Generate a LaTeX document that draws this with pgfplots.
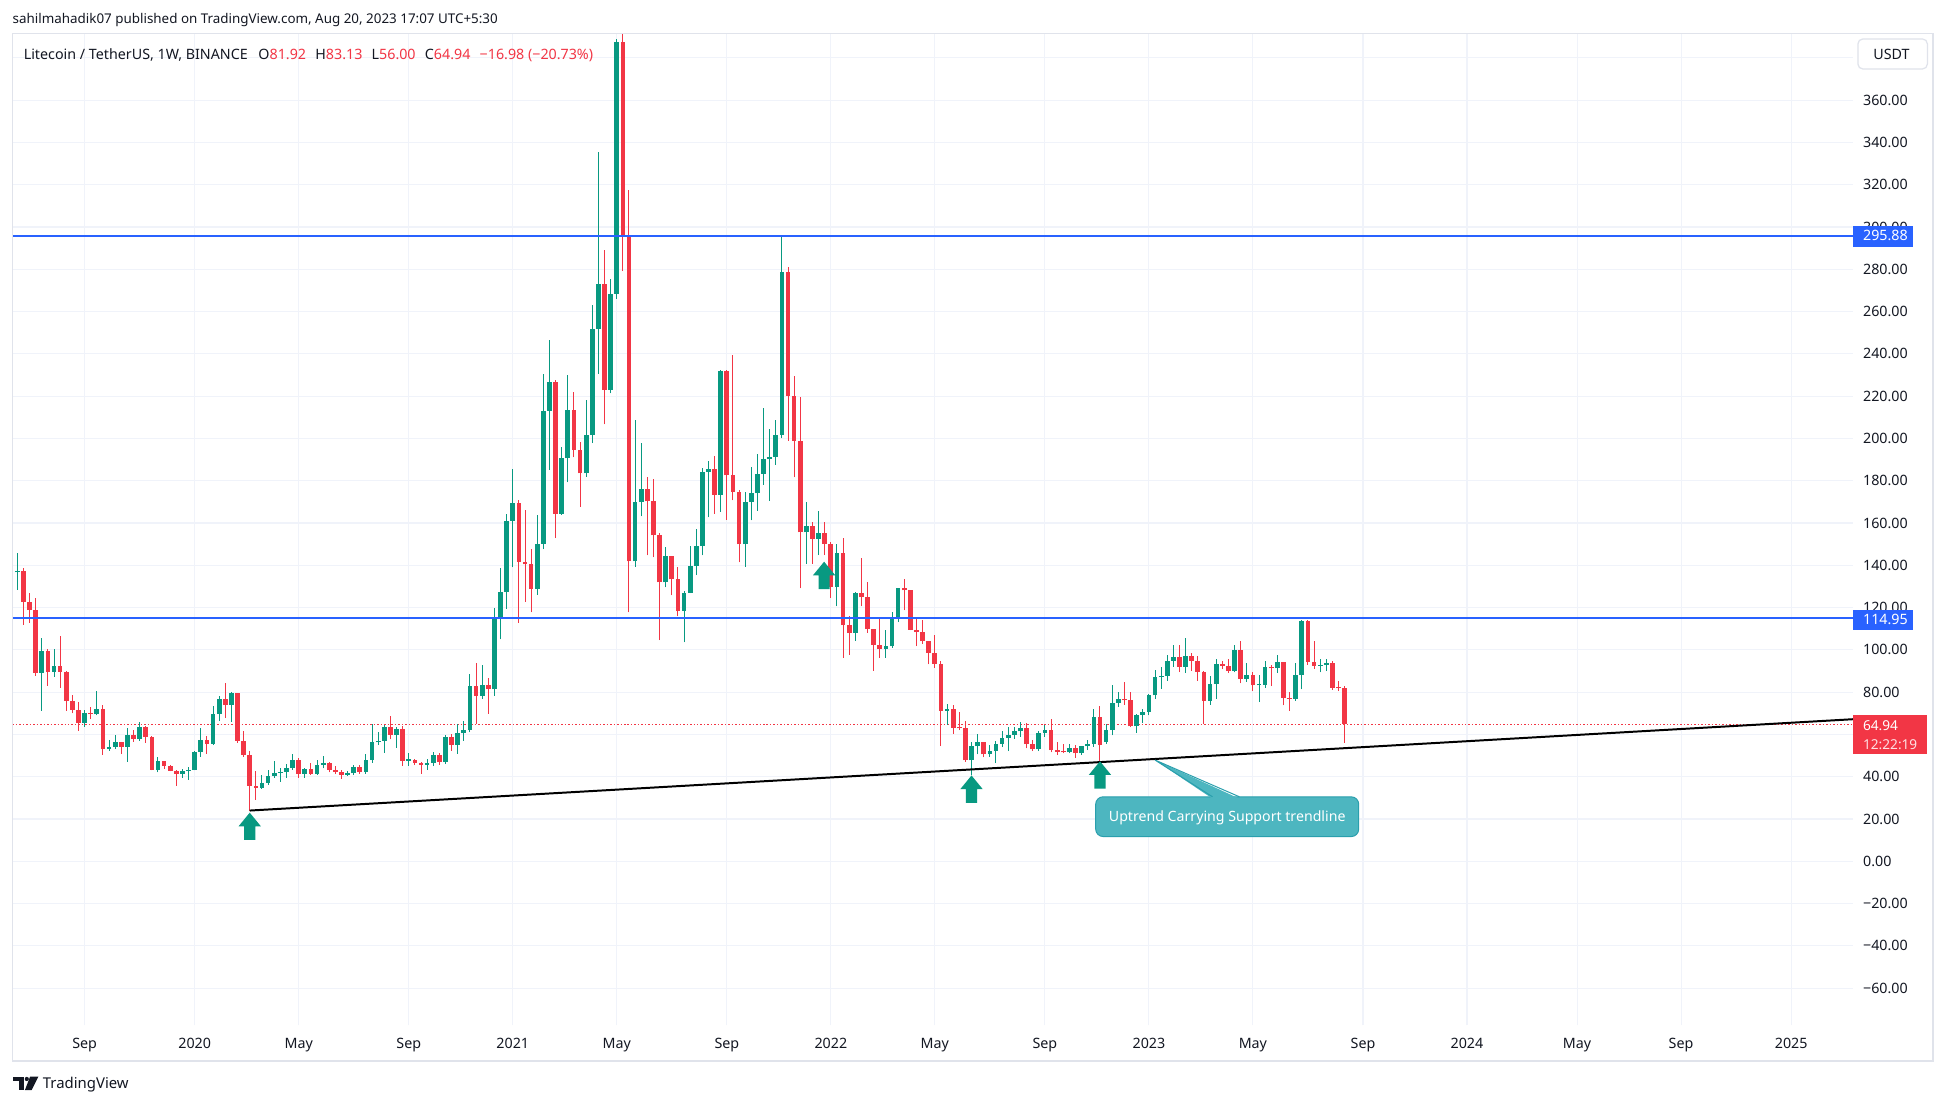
\documentclass[border=0pt]{standalone}
\usepackage{pgfplots}
\pgfplotsset{compat=1.18}
\usepackage{pgfplotstable}
\usepackage{fontspec}
\setmainfont{Noto Sans}
\definecolor{tvgreen}{HTML}{089981}
\definecolor{tvred}{HTML}{F23645}
\definecolor{tvblue}{HTML}{2962FF}
\definecolor{tvgrid}{HTML}{F0F3FA}
\definecolor{tvtext}{HTML}{131722}
\definecolor{tvframe}{HTML}{E0E3EB}
\definecolor{tvcallout}{HTML}{4DB6C0}
\definecolor{tvcalloutb}{HTML}{2A9FAD}

\pgfplotstableread{
i o h l c
0 136.7 145.6 128.4 137.5
1 137.5 138.5 111.8 122.8
2 122.8 126.7 112.9 118.9
3 118.9 124.7 87.8 89.2
4 89.2 105.5 71.2 99.4
5 99.4 100.6 83.0 89.6
6 89.6 100.3 87.3 92.3
7 92.3 106.5 82.1 89.6
8 89.6 89.9 71.2 75.9
9 75.9 78.6 70.0 71.7
10 71.7 75.3 61.8 65.6
11 65.6 71.4 63.7 70.1
12 70.1 73.0 67.3 69.5
13 69.5 80.5 69.0 72.0
14 72.0 73.9 50.3 53.3
15 53.3 57.4 52.2 54.1
16 54.1 59.7 53.0 56.4
17 56.4 56.4 50.7 54.2
18 54.2 63.0 47.1 59.7
19 59.7 62.3 56.6 58.0
20 58.0 65.9 57.0 63.5
21 63.5 64.1 56.1 59.0
22 59.0 59.3 43.0 43.4
23 43.4 49.2 42.1 47.5
24 47.5 47.5 43.7 45.3
25 45.3 45.6 42.5 42.9
26 42.9 43.2 35.8 41.5
27 41.5 43.8 39.6 42.7
28 42.7 44.6 38.6 43.4
29 43.4 52.0 43.0 51.7
30 51.7 63.1 49.4 57.4
31 57.4 59.3 50.9 55.6
32 55.6 73.6 55.0 69.6
33 69.6 78.1 66.5 76.7
34 76.7 84.3 67.8 74.1
35 74.1 80.0 65.9 79.6
36 79.6 79.6 56.1 57.1
37 57.1 61.5 49.5 50.4
38 50.4 52.1 24.0 35.8
39 35.8 42.5 29.0 34.9
40 34.9 40.9 34.3 37.1
41 37.1 43.4 36.0 40.4
42 40.4 47.5 39.5 41.8
43 41.8 44.3 37.7 42.3
44 42.3 45.9 39.6 44.2
45 44.2 50.6 43.4 47.8
46 47.8 49.0 39.6 41.5
47 41.5 44.3 39.6 43.7
48 43.7 46.5 41.0 41.5
49 41.5 48.1 41.0 45.6
50 45.6 49.8 44.0 46.5
51 46.5 47.2 42.1 43.4
52 43.4 45.0 41.2 42.4
53 42.4 43.4 39.1 41.0
54 41.0 42.8 40.4 41.6
55 41.6 45.6 41.0 44.6
56 44.6 45.6 41.5 42.4
57 42.4 50.6 41.3 47.9
58 47.9 64.8 46.5 56.3
59 56.3 61.0 55.0 56.9
60 56.9 64.5 51.4 63.5
61 63.5 68.5 57.7 59.9
62 59.9 63.4 53.8 62.7
63 62.7 63.8 45.1 47.6
64 47.6 51.2 45.3 47.9
65 47.9 48.5 45.5 46.5
66 46.5 47.2 41.3 45.7
67 45.7 48.4 43.4 46.5
68 46.5 51.5 45.0 50.3
69 50.3 51.2 45.6 47.2
70 47.2 59.7 46.0 58.8
71 58.8 60.1 52.3 55.2
72 55.2 64.8 50.9 60.5
73 60.5 66.3 57.1 62.1
74 62.1 88.5 61.0 82.9
75 82.9 93.7 64.8 78.3
76 78.3 92.9 77.0 83.3
77 83.3 86.5 69.8 81.4
78 81.4 120.0 78.3 114.6
79 114.6 138.8 105.0 127.3
80 127.3 164.3 119.5 161.1
81 161.1 185.7 139.0 169.6
82 169.6 170.7 112.8 141.7
83 141.7 166.0 122.7 140.5
84 140.5 147.5 117.7 128.7
85 128.7 164.0 126.0 150.2
86 150.2 230.4 147.7 213.0
87 213.0 246.7 185.1 226.8
88 226.8 227.5 152.9 164.5
89 164.5 196.0 164.0 190.6
90 190.6 230.0 179.2 213.6
91 213.6 222.2 191.1 194.7
92 194.7 198.4 167.8 183.5
93 183.5 218.1 182.0 201.8
94 201.8 263.3 197.8 251.9
95 251.9 335.5 230.7 273.1
96 273.1 289.2 206.7 223.1
97 223.1 275.6 221.3 268.4
98 268.4 389.0 266.0 387.6
99 387.6 413.0 279.2 295.5
100 295.5 317.6 117.7 141.9
101 141.9 208.7 139.4 170.1
102 170.1 197.8 163.1 176.1
103 176.1 182.0 144.7 170.2
104 170.2 180.9 143.8 154.2
105 154.2 155.3 104.6 131.9
106 131.9 148.8 129.6 144.6
107 144.6 144.6 125.8 133.4
108 133.4 139.2 115.9 118.3
109 118.3 127.7 103.6 127.1
110 127.1 149.3 126.8 139.8
111 139.8 157.3 135.3 149.3
112 149.3 186.1 144.7 184.2
113 184.2 189.4 162.7 185.7
114 185.7 191.8 164.4 173.4
115 173.4 232.5 165.3 231.9
116 231.9 232.5 161.6 182.5
117 182.5 239.5 170.7 174.9
118 174.9 175.7 141.4 149.9
119 149.9 174.8 139.4 170.1
120 170.1 186.6 161.2 174.2
121 174.2 192.7 165.9 183.3
122 183.3 214.5 178.1 190.1
123 190.1 204.6 170.5 191.3
124 191.3 208.8 187.5 201.7
125 201.7 295.9 200.0 278.7
126 278.7 280.9 199.0 220.3
127 220.3 229.7 181.6 199.0
128 199.0 219.7 129.1 155.6
129 155.6 170.1 140.8 158.7
130 158.7 160.6 140.8 152.6
131 152.6 165.9 144.8 155.1
132 155.1 160.7 144.8 150.1
133 150.1 151.0 124.5 129.9
134 129.9 149.9 120.6 145.7
135 145.7 153.1 96.2 111.7
136 111.7 116.2 97.6 107.9
137 107.9 127.5 104.2 127.0
138 127.0 143.4 120.6 124.8
139 124.8 132.1 108.2 109.8
140 109.8 110.1 90.1 102.4
141 102.4 115.7 96.2 100.4
142 100.4 109.2 96.2 101.7
143 101.7 118.1 100.9 114.8
144 114.8 129.5 113.1 129.5
145 129.5 133.7 118.7 128.1
146 128.1 128.4 109.3 109.6
147 109.6 114.6 101.8 108.4
148 108.4 114.3 103.0 104.0
149 104.0 104.3 93.2 98.5
150 98.5 106.8 91.5 93.4
151 93.4 94.6 54.5 71.2
152 71.2 74.3 64.6 71.8
153 71.8 74.0 60.4 63.2
154 63.2 70.5 62.0 62.9
155 62.9 66.2 47.1 47.7
156 47.7 56.5 40.9 54.3
157 54.3 60.1 50.6 56.5
158 56.5 56.5 49.2 50.6
159 50.6 55.1 49.5 52.3
160 52.3 57.1 46.4 55.6
161 55.6 61.6 54.0 58.5
162 58.5 63.5 52.1 59.9
163 59.9 63.4 58.0 61.4
164 61.4 66.0 59.0 63.2
165 63.2 65.6 53.4 55.4
166 55.4 57.3 52.1 52.9
167 52.9 61.6 52.1 60.7
168 60.7 64.6 59.0 62.3
169 62.3 67.4 51.5 52.6
170 52.6 56.2 50.5 51.8
171 51.8 55.7 51.0 51.5
172 51.5 55.7 51.0 53.8
173 53.8 54.9 49.0 51.0
174 51.0 54.6 50.5 54.3
175 54.3 57.3 52.6 55.4
176 55.4 71.9 54.2 68.4
177 68.4 73.4 47.4 54.9
178 56.5 65.1 55.5 62.3
179 62.3 83.2 59.6 74.9
180 74.9 79.9 73.0 76.8
181 76.8 84.8 74.0 76.1
182 76.1 79.9 63.5 63.8
183 63.8 69.8 60.9 69.3
184 69.3 71.8 65.6 70.7
185 70.7 79.3 69.0 78.5
186 78.5 90.7 77.0 87.1
187 87.1 91.8 81.7 87.8
188 87.8 97.6 85.3 94.8
189 94.8 102.3 92.0 96.5
190 96.5 102.3 89.5 92.0
191 92.0 105.4 89.2 97.1
192 97.1 98.5 90.1 94.8
193 94.8 97.1 85.4 89.6
194 89.6 89.9 64.9 76.0
195 76.0 87.8 74.0 83.8
196 83.8 95.6 76.8 93.2
197 93.2 94.8 91.0 92.4
198 92.4 95.6 89.0 89.9
199 89.9 102.3 89.3 99.8
200 99.8 104.0 84.2 86.3
201 86.3 94.0 85.0 88.1
202 88.1 89.3 80.7 83.2
203 83.2 88.1 75.3 83.6
204 83.6 94.6 82.0 91.7
205 91.7 92.8 82.8 91.2
206 91.2 97.6 89.0 94.2
207 94.2 94.2 73.7 77.4
208 77.4 79.9 71.2 76.8
209 76.8 93.7 76.0 88.1
210 88.1 114.0 81.3 113.5
211 113.5 114.3 93.0 94.3
212 94.3 104.0 91.0 92.4
213 92.4 95.9 89.3 92.8
214 92.8 95.9 90.0 93.7
215 93.7 94.6 81.2 82.1
216 82.3 85.2 80.5 81.92
217 81.92 83.13 56.00 64.94
}\ltc

\newcommand{\tvarrow}[2]{\fill[tvgreen] (axis cs:#1,#2) -- ++(9pt,-11pt) -- ++(-4.5pt,0pt) -- ++(0pt,-11pt) -- ++(-9pt,0pt) -- ++(0pt,11pt) -- ++(-4.5pt,0pt) -- cycle;}

\begin{document}
\begin{tikzpicture}[x=1pt,y=1pt]
\useasboundingbox (0,0) rectangle (1568,890);
\fill[white] (0,0) rectangle (1568,890);
\begin{axis}[
  at={(10pt,64pt)}, anchor=south west,
  scale only axis, width=1483pt, height=799pt,
  xmin=-0.8, xmax=300.1, ymin=-77.49, ymax=391.55,
  axis line style={draw=none},
  major tick length=0pt,
  grid=major,
  major grid style={draw=tvgrid, line width=0.9pt},
  xtick={11,29,46,64,81,98,116,133,150,168,185,202,220,237,255,272,290},
  xticklabels={Sep,\textbf{2020},May,Sep,\textbf{2021},May,Sep,\textbf{2022},May,Sep,\textbf{2023},May,Sep,\textbf{2024},May,Sep,\textbf{2025}},
  xticklabel style={anchor=base, inner sep=0pt, yshift=-18.7pt, font=\fontsize{11.5}{13}\selectfont, text=tvtext},
  ytick={-60,-40,-20,0,20,40,60,80,100,120,140,160,180,200,220,240,260,280,300,320,340,360,380},
  yticklabels={−60.00,−40.00,−20.00,0.00,20.00,40.00,{},80.00,100.00,120.00,140.00,160.00,180.00,200.00,220.00,240.00,260.00,280.00,300.00,320.00,340.00,360.00,{}},
  yticklabel pos=right,
  yticklabel style={anchor=base west, inner sep=0pt, xshift=8pt, yshift=-4.1pt, font=\fontsize{11.5}{13}\selectfont, text=tvtext},
  clip=true,
]
% current price line
\addplot[tvred, line width=0.8pt, dash pattern=on 1.2pt off 1.6pt] coordinates {(-0.8,64.94) (300.1,64.94)};
% wicks
\addplot[tvgreen, line width=0.8pt, quiver={u=0, v=\thisrow{h}-\thisrow{l}},
  restrict expr to domain={\thisrow{c}-\thisrow{o}}{0:100000}] table[x=i, y=l]{\ltc};
\addplot[tvred, line width=0.8pt, quiver={u=0, v=\thisrow{h}-\thisrow{l}},
  restrict expr to domain={\thisrow{c}-\thisrow{o}}{-100000:-0.00001}] table[x=i, y=l]{\ltc};
% bodies
\addplot[tvgreen, line width=3.8pt, quiver={u=0, v={max(abs(\thisrow{c}-\thisrow{o}),0.6)}},
  restrict expr to domain={\thisrow{c}-\thisrow{o}}{0:100000}] table[x=i, y expr={min(\thisrow{o},\thisrow{c})}]{\ltc};
\addplot[tvred, line width=3.8pt, quiver={u=0, v={max(abs(\thisrow{c}-\thisrow{o}),0.6)}},
  restrict expr to domain={\thisrow{c}-\thisrow{o}}{-100000:-0.00001}] table[x=i, y expr={min(\thisrow{o},\thisrow{c})}]{\ltc};
% horizontal levels
\addplot[tvblue, line width=1.5pt] coordinates {(-0.8,295.88) (300.1,295.88)};
\addplot[tvblue, line width=1.5pt] coordinates {(-0.8,114.95) (300.1,114.95)};
% trendline
\addplot[black, line width=1.6pt] coordinates {(38,24.0) (300.1,67.2)};
% arrows
\tvarrow{38}{23.0}
\tvarrow{131.9}{141.7}
\tvarrow{156}{40.6}
\tvarrow{177}{47.3}
% callout
\draw[fill=tvcallout, draw=tvcalloutb, line width=0.8pt, rounded corners=6pt] (axis cs:176.3,30.5) rectangle (axis cs:219.3,11.7);
\fill[tvcallout] (axis cs:186.0,47.9) -- (axis cs:195.4,29.6) -- (axis cs:199.8,29.6) -- cycle;
\draw[tvcalloutb, line width=0.8pt] (axis cs:195.4,30.5) -- (axis cs:186.0,47.9) -- (axis cs:199.8,30.5);
\node[text=white, font=\fontsize{11.4}{13}\selectfont, inner sep=0pt, anchor=base] at (axis cs:197.8,18.7) {Uptrend Carrying Support trendline};
\end{axis}
% frame
\draw[tvframe, line width=1.3pt] (10.2,35.3) rectangle (1557.5,863);
% top texts
\node[anchor=base west, inner sep=0pt, font=\fontsize{10.8}{13}\selectfont, text=tvtext] at (10,871.1) {sahilmahadik07 published on TradingView.com, Aug 20, 2023 17:07 UTC+5:30};
\node[anchor=base west, inner sep=0pt, font=\fontsize{11.5}{13}\selectfont, text=tvtext] at (19,842.4) {Litecoin / TetherUS, 1W, BINANCE\hspace{0.75em}O\textcolor{tvred}{81.92}\hspace{0.65em}H\textcolor{tvred}{83.13}\hspace{0.65em}L\textcolor{tvred}{56.00}\hspace{0.65em}C\textcolor{tvred}{64.94}\hspace{0.65em}\textcolor{tvred}{−16.98 (−20.73\%)}};
% USDT box
\draw[tvframe, line width=1pt, fill=white, rounded corners=4pt] (1497,834.4) rectangle (1553,858.6);
\node[anchor=base, inner sep=0pt, font=\fontsize{11.5}{13}\selectfont, text=tvtext] at (1524,842.1) {USDT};
% price boxes
\fill[tvblue] (1493,691.2) rectangle (1541,708);
\node[anchor=base west, inner sep=0pt, font=\bfseries\fontsize{11.5}{13}\selectfont, text=white] at (1501,695.8) {295.88};
\fill[tvblue] (1493,382.3) rectangle (1541,398.8);
\node[anchor=base west, inner sep=0pt, font=\bfseries\fontsize{11.5}{13}\selectfont, text=white] at (1501,386.4) {114.95};
\fill[tvred] (1493,282.2) rectangle (1553,314);
\node[anchor=base west, inner sep=0pt, font=\bfseries\fontsize{11}{12}\selectfont, text=white] at (1501,301.2) {64.94};
\node[anchor=base west, inner sep=0pt, font=\fontsize{11}{12}\selectfont, text=white!85!tvred] at (1501,286.0) {12:22:19};
% logo
\fill[tvtext] (10.7,19.2) rectangle (19.3,22.4);
\fill[tvtext] (15.3,11.7) rectangle (19.3,22.4);
\fill[tvtext] (21.6,20.6) circle (1.7);
\fill[tvtext] (24.2,22.4) -- (30.9,22.4) -- (25.5,11.7) -- (20.1,11.7) -- cycle;
\node[anchor=base west, inner sep=0pt, font=\fontsize{12}{14}\selectfont, text=tvtext] at (34.4,12.7) {TradingView};
\end{tikzpicture}
\end{document}
